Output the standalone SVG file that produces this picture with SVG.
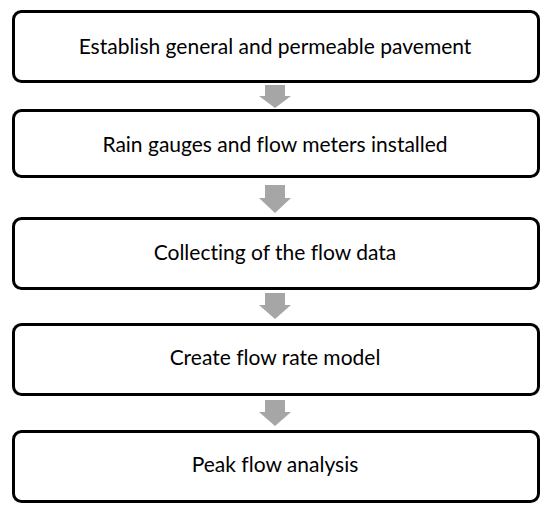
<svg xmlns="http://www.w3.org/2000/svg" width="550" height="514" viewBox="0 0 550 514">
<style>
.box{fill:#fff;stroke:#000;stroke-width:3}
.lbl{font-family:Lato,"Open Sans",sans-serif;font-size:21px;fill:#000;text-anchor:middle;font-variant-ligatures:none}
.arr{fill:#a6a6a6}
</style>
<rect width="550" height="514" fill="#fff"/>
<g id="connectors">
<polygon class="arr" points="265,85 285,85 285,96 291,96 275,108 259,96 265,96"/>
<polygon class="arr" points="265,185 285,185 285,198 291,198 275,213 259,198 265,198"/>
<polygon class="arr" points="265,293 285,293 285,305 291,305 275,319 259,305 265,305"/>
<polygon class="arr" points="265,400 285,400 285,412 291,412 275,426 259,412 265,412"/>
</g>
<g id="n1"><rect class="box" x="13.5" y="11.5" width="525" height="70" rx="8"/><text class="lbl" x="275" y="54">Establish general and permeable pavement</text></g>
<g id="n2"><rect class="box" x="13.5" y="110.5" width="525" height="66" rx="8"/><text class="lbl" x="275" y="152">Rain gauges and flow meters installed</text></g>
<g id="n3"><rect class="box" x="13.5" y="218.5" width="525" height="70" rx="8"/><text class="lbl" x="275" y="260">Collecting of the flow data</text></g>
<g id="n4"><rect class="box" x="13.5" y="324.5" width="525" height="70" rx="8"/><text class="lbl" x="275" y="365">Create flow rate model</text></g>
<g id="n5"><rect class="box" x="13.5" y="431.5" width="525" height="70" rx="8"/><text class="lbl" x="275" y="472">Peak flow analysis</text></g>
</svg>
